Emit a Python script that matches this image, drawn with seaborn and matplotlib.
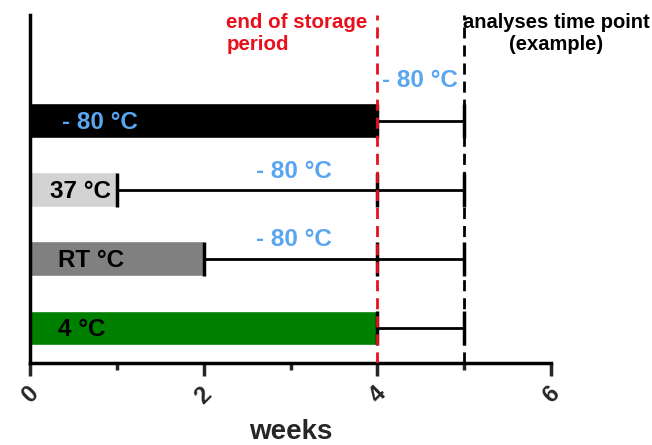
import matplotlib
matplotlib.use("Agg")
import matplotlib.pyplot as plt
import seaborn as sns
import pandas as pd

conditions = ["-80", "37", "RT", "4"]
storage_weeks = [4, 1, 2, 4]
bar_colors = ["#000000", "#d3d3d3", "#808080", "#008000"]
bar_labels = ["- 80 °C", "37 °C", "RT °C", "4 °C"]
bar_label_colors = ["#5aa5f0", "#000000", "#000000", "#000000"]
end_of_storage = 4
analysis_point = 5
x_ticks = [0, 2, 4, 6]
x_minor = [1, 3, 5]

sns.set_style("white")
plt.rcParams["font.family"] = ["Liberation Sans", "DejaVu Sans"]
plt.rcParams["font.weight"] = "bold"

blue = "#5aa5f0"
red = "#e8101c"

data = pd.DataFrame({"Condition": conditions, "Weeks": storage_weeks})

fig = plt.figure(figsize=(6.52, 4.45), dpi=100)
ax = fig.add_axes([30 / 652, 82 / 445, 521 / 652, 348 / 445])

sns.barplot(data, x="Weeks", y="Condition", hue="Condition", palette=bar_colors,
            orient="h", width=0.5, legend=False, ax=ax, saturation=1)

# -80 storage after the end of each condition, up to the analysis point
for i, w in enumerate(storage_weeks):
    ax.hlines(i, w, analysis_point, color="black", lw=2, zorder=3)
    caps = sorted(set([w, end_of_storage, analysis_point]))
    ax.plot(caps, [i] * len(caps), ls="none", marker="|", ms=24, mew=2.5,
            color="black", zorder=4)

ax.axvline(end_of_storage, color=red, ls=(0, (4, 2.5)), lw=2, zorder=5)
ax.axvline(analysis_point, color="black", ls=(0, (4, 2.5)), lw=2, zorder=5)

# bar labels
label_x = [0.37, 0.23, 0.32, 0.32]
for i, (lab, c) in enumerate(zip(bar_labels, bar_label_colors)):
    ax.text(label_x[i], i + 0.02, lab, color=c, fontsize=17.5, fontweight="bold",
            va="center", ha="left", zorder=6)

ax.text(4.05, -0.58, "- 80 °C", color=blue, fontsize=17.5, fontweight="bold", va="center")
ax.text(2.6, 0.74, "- 80 °C", color=blue, fontsize=17.5, fontweight="bold", va="center")
ax.text(2.6, 1.72, "- 80 °C", color=blue, fontsize=17.5, fontweight="bold", va="center")

ax.text(2.26, -1.56, "end of storage\nperiod", color=red, fontsize=14.8,
        fontweight="bold", va="top", ha="left", linespacing=1.2)
ax.text(6.06, -1.56, "analyses time point\n(example)", color="black", fontsize=14.5,
        fontweight="bold", va="top", ha="center", linespacing=1.2, zorder=6)

ax.set_xlim(0, 6)
ax.set_ylim(3.51, -1.53)
ax.set_xticks(x_ticks)
ax.set_xticks(x_minor, minor=True)
ax.set_xticklabels([str(t) for t in x_ticks], rotation=45, fontsize=17, fontweight="bold")
ax.tick_params(axis="x", which="major", direction="out", length=9, width=2.5, bottom=True, pad=5)
ax.tick_params(axis="x", which="minor", direction="out", length=5, width=2.5, bottom=True)
ax.set_yticks([])
ax.set_ylabel("")
ax.set_xlabel("weeks", fontsize=20, fontweight="bold", labelpad=8)

sns.despine(ax=ax, top=True, right=True)
for s in ["left", "bottom"]:
    ax.spines[s].set_linewidth(2.5)
    ax.spines[s].set_color("black")

fig.savefig("out.png", dpi=100)
